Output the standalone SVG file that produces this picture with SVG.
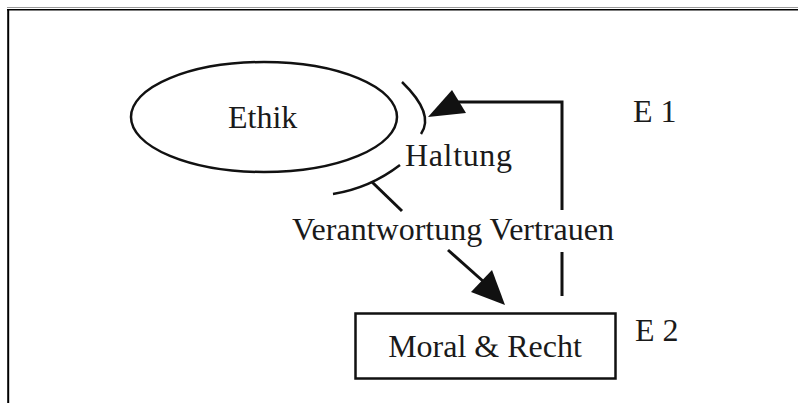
<svg xmlns="http://www.w3.org/2000/svg" width="798" height="403" viewBox="0 0 798 403">
<style>
.t{font-family:"Liberation Serif","Times New Roman",serif;font-size:32px;fill:#1a1a1a}
.s{fill:none;stroke:#111;stroke-width:2.5}
.c{fill:none;stroke:#111;stroke-width:3}
.h{fill:#111;stroke:none}
</style>
<rect width="798" height="403" fill="#fff"/>
<g id="frame">
<line x1="7" y1="7.5" x2="798" y2="7.5" stroke="#999" stroke-width="1"/>
<line x1="7" y1="9.8" x2="798" y2="9.8" stroke="#000" stroke-width="1.6"/>
<line x1="8.2" y1="9" x2="8.2" y2="403" stroke="#000" stroke-width="2"/>
</g>
<g id="ethik">
<ellipse class="s" cx="264" cy="117" rx="133" ry="55"/>
<text class="t" x="228" y="128">Ethik</text>
</g>
<g id="moral">
<rect class="s" x="355.5" y="313.5" width="260" height="65"/>
<text class="t" x="485" y="357" text-anchor="middle">Moral &amp; Recht</text>
</g>
<g id="labels">
<text class="t" x="405" y="166" textLength="107">Haltung</text>
<text class="t" x="292" y="240">Verantwortung Vertrauen</text>
<text class="t" x="633" y="122">E 1</text>
<text class="t" x="635" y="341">E 2</text>
</g>
<g id="connectors">
<path class="s" d="M402,82 Q435,114 421,134"/>
<path class="s" d="M333,194 Q370,188 400,165"/>
<line class="c" x1="372" y1="182" x2="402" y2="211"/>
<path class="c" d="M562,296 V252 M562,210 V102 H458"/>
<polygon class="h" points="428,117 452,90 466,113"/>
<line class="c" x1="448" y1="250" x2="484" y2="282"/>
<polygon class="h" points="505,305 492,270 471,292"/>
</g>
</svg>
